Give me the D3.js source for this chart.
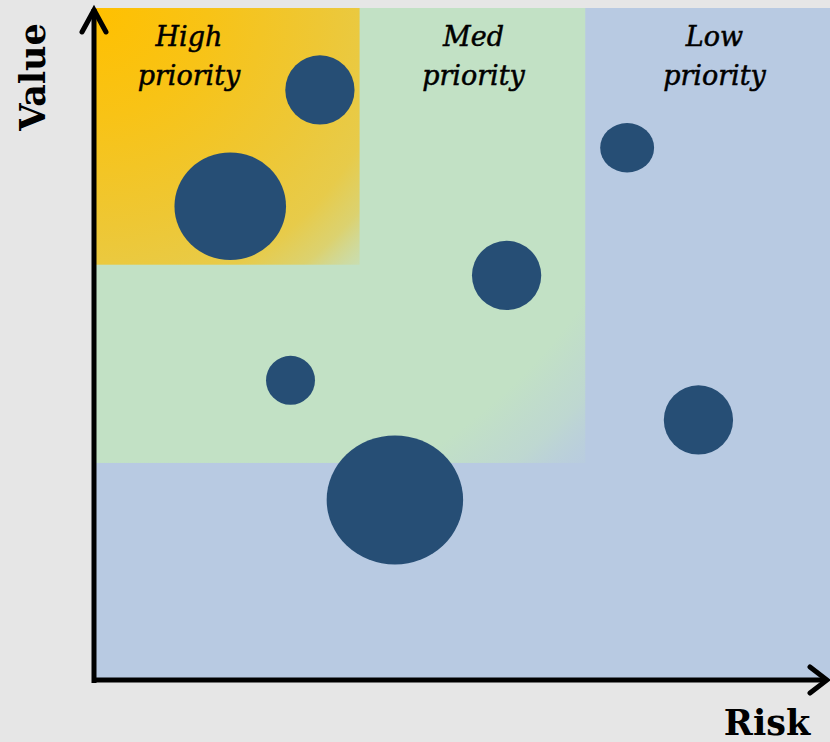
<!DOCTYPE html>
<html>
<head>
<meta charset="utf-8">
<script src="https://cdn.jsdelivr.net/npm/d3@7"></script>
<style>
  html, body { margin: 0; padding: 0; background: #e6e6e6; }
  svg { display: block; }
</style>
</head>
<body>
<svg id="chart" width="830" height="742"></svg>
<script>
// ---- data ----
const projects = ["A", "B", "C", "D", "E", "F", "G"];
const risk     = [30.6, 18.4, 56.0, 26.6, 72.4, 82.1, 40.8];
const value    = [87.8, 70.5, 60.2, 44.6, 79.2, 38.7, 26.8];
const size     = [12, 30, 12, 6, 6.65, 12, 44];
const aspect   = [1, 1.037, 1, 1, 1.093, 1, 1.058];

// priority zones: each covers risk below riskMax and value above valueMin
const zoneNames    = ["Low", "Med", "High"];
const zoneRiskMax  = [100, 66.7, 36.0];
const zoneValueMin = [0, 32.3, 61.8];

const axisTitles = { x: "Risk", y: "Value" };

// ---- layout ----
const svg = d3.select("#chart");
const W = 830, H = 742;
const plot = { left: 95, right: 830, top: 8, bottom: 680 };

const x = d3.scaleLinear().domain([0, 100]).range([plot.left, plot.right]);
const y = d3.scaleLinear().domain([0, 100]).range([plot.bottom, plot.top]);
const r = d3.scaleSqrt().domain([0, 50]).range([0, 70.7]);

svg.append("rect").attr("width", W).attr("height", H).attr("fill", "#e6e6e6");

// ---- gradients ----
const defs = svg.append("defs");

const gHigh = defs.append("radialGradient")
  .attr("id", "gHigh").attr("cx", 0).attr("cy", 0).attr("fx", 0).attr("fy", 0).attr("r", 1.414);
[[0, "#ffc000", 1], [0.3, "#f8c316", 1], [0.6, "#eec734", 1],
 [0.8, "#e7cb4a", 1], [0.9, "#e0cf60", 0.85], [1, "#d6d68a", 0.35]]
  .forEach(([o, c, a]) => gHigh.append("stop").attr("offset", o).attr("stop-color", c).attr("stop-opacity", a));

const gMed = defs.append("radialGradient")
  .attr("id", "gMed").attr("cx", 0).attr("cy", 0).attr("fx", 0).attr("fy", 0).attr("r", 1.414);
[[0, "#c2e1c5", 1], [0.84, "#c2e1c5", 1], [0.93, "#c0dccb", 0.75], [1, "#bcd3d6", 0.25]]
  .forEach(([o, c, a]) => gMed.append("stop").attr("offset", o).attr("stop-color", c).attr("stop-opacity", a));

const zoneFill = { Low: "#b8cae2", Med: "url(#gMed)", High: "url(#gHigh)" };

// ---- zones ----
svg.append("g").selectAll("rect")
  .data(zoneNames.map((n, i) => ({ name: n, riskMax: zoneRiskMax[i], valueMin: zoneValueMin[i] })))
  .join("rect")
  .attr("x", x(0))
  .attr("y", y(100))
  .attr("width", d => x(d.riskMax) - x(0))
  .attr("height", d => y(d.valueMin) - y(100))
  .attr("fill", d => zoneFill[d.name]);

// ---- zone labels ----
const labelX = { High: 189, Med: 473.5, Low: 714.5 };
const labels = svg.append("g")
  .attr("font-family", "'DejaVu Serif', serif")
  .attr("font-style", "italic")
  .attr("font-size", 27)
  .attr("fill", "#000")
  .attr("stroke", "#000")
  .attr("stroke-width", 0.5)
  .attr("text-anchor", "middle");
zoneNames.forEach(n => {
  const t = labels.append("text").attr("x", labelX[n]).attr("y", 46);
  t.append("tspan").attr("x", labelX[n]).text(n);
  t.append("tspan").attr("x", labelX[n]).attr("dy", 39).text("priority");
});

// ---- bubbles ----
svg.append("g").selectAll("ellipse")
  .data(projects.map((p, i) => ({ p, risk: risk[i], value: value[i], size: size[i], aspect: aspect[i] })))
  .join("ellipse")
  .attr("cx", d => x(d.risk))
  .attr("cy", d => y(d.value))
  .attr("rx", d => r(d.size) * Math.sqrt(d.aspect))
  .attr("ry", d => r(d.size) / Math.sqrt(d.aspect))
  .attr("fill", "#264e75");

// ---- axes with arrowheads ----
const axes = svg.append("g")
  .attr("stroke", "#000").attr("stroke-width", 5).attr("fill", "none");
axes.append("line")
  .attr("x1", x(0) - 1).attr("y1", y(0) + 3).attr("x2", x(0) - 1).attr("y2", y(100) + 1)
  .attr("stroke-linecap", "butt");
axes.append("polyline")
  .attr("points", [[x(0) - 13, y(100) + 24], [x(0) - 1, y(100) + 2], [x(0) + 11, y(100) + 24]].join(" "))
  .attr("stroke-linecap", "round").attr("stroke-linejoin", "miter");
axes.append("line")
  .attr("x1", x(0) - 3).attr("y1", y(0)).attr("x2", x(100) - 4).attr("y2", y(0));
axes.append("polyline")
  .attr("points", [[x(100) - 20, y(0) - 13], [x(100) - 3, y(0)], [x(100) - 20, y(0) + 13]].join(" "))
  .attr("stroke-linecap", "round").attr("stroke-linejoin", "miter");

// ---- axis titles ----
svg.append("text")
  .attr("x", 767).attr("y", 735)
  .attr("text-anchor", "middle")
  .attr("font-family", "'DejaVu Serif', serif")
  .attr("font-weight", "bold")
  .attr("font-size", 35)
  .text(axisTitles.x);
svg.append("text")
  .attr("transform", "translate(45,77) rotate(-90)")
  .attr("text-anchor", "middle")
  .attr("font-family", "'DejaVu Serif', serif")
  .attr("font-weight", "bold")
  .attr("font-size", 35)
  .text(axisTitles.y);
</script>
</body>
</html>
